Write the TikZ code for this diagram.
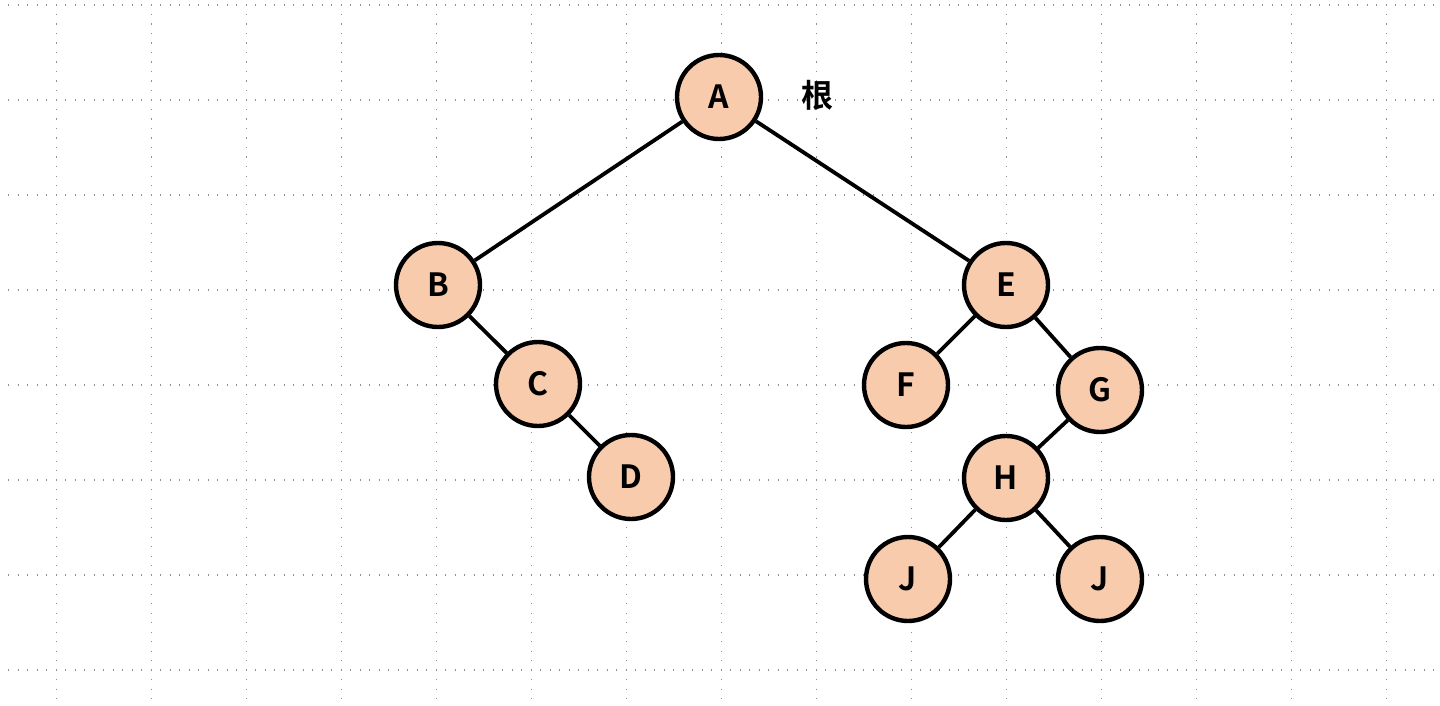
\documentclass[tikz,border=0pt]{standalone}
\usepackage{fontspec}
\setmainfont{Noto Sans CJK SC}[BoldFont={Noto Sans CJK SC Bold}]
\definecolor{peach}{HTML}{F8CBAD}
\definecolor{griddot}{HTML}{909090}
\begin{document}
\begin{tikzpicture}[x=1pt,y=-1pt,
  tnode/.style={circle,draw=black,line width=4.4pt,fill=peach,minimum size=84pt,inner sep=0pt,font=\fontsize{32}{34}\selectfont\bfseries},
  edge/.style={line width=3.8pt,black},
  gridline/.style={griddot,line width=1.4pt,dash pattern=on 1.4pt off 8.1pt}]
\useasboundingbox (0,0) rectangle (1440,706);
\fill[white] (0,0) rectangle (1440,706);
\foreach \yy in {5,100,195,290,385,480,575,670}
  \draw[gridline] (8,\yy) -- (1440,\yy);
\foreach \k in {0,...,14}
  \draw[gridline] ({56.7+95*\k},14) -- ({56.7+95*\k},706);
\node[tnode] (A) at (719,97) {A};
\node[tnode] (B) at (438,285) {B};
\node[tnode] (C) at (538,384) {C};
\node[tnode] (D) at (631,477) {D};
\node[tnode] (E) at (1006,285) {E};
\node[tnode] (F) at (906,385) {F};
\node[tnode] (G) at (1100,390) {G};
\node[tnode] (H) at (1006,478) {H};
\node[tnode] (J1) at (908,579) {J};
\node[tnode] (J2) at (1100,579) {J};
\node[font=\fontsize{32}{34}\selectfont\bfseries] (root) at (817,95) {根};
\draw[edge] (A) -- (B);
\draw[edge] (A) -- (E);
\draw[edge] (B) -- (C);
\draw[edge] (C) -- (D);
\draw[edge] (E) -- (F);
\draw[edge] (E) -- (G);
\draw[edge] (G) -- (H);
\draw[edge] (H) -- (J1);
\draw[edge] (H) -- (J2);
\end{tikzpicture}
\end{document}
